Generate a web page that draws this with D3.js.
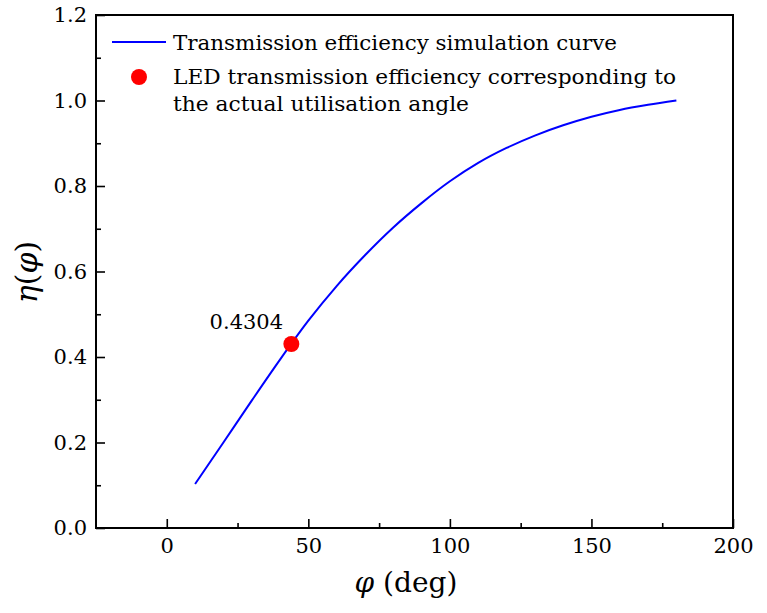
<!DOCTYPE html>
<html>
<head>
<meta charset="utf-8">
<script src="https://cdn.jsdelivr.net/npm/d3@7"></script>
<style>
  html, body { margin: 0; padding: 0; background: #fff; }
  svg text { font-family: "DejaVu Serif", serif !important; fill: #000; }
</style>
</head>
<body>
<svg id="chart" width="767" height="613"></svg>
<script>
// ---- data ----
const angles = [10, 20, 30, 40, 50, 60, 70, 80, 90, 100, 110, 120, 130, 140, 150, 160, 170, 180];
const efficiency = [0.103, 0.200, 0.298, 0.394, 0.485, 0.566, 0.638, 0.703, 0.760, 0.811, 0.854, 0.889, 0.918, 0.942, 0.962, 0.978, 0.990, 1.000];
const markAngle = [44];
const markValue = [0.4304];
const markLabel = ["0.4304"];
const xTicks = [0, 50, 100, 150, 200];
const xMinorTicks = [25, 75, 125, 175];
const yTicks = [0.0, 0.2, 0.4, 0.6, 0.8, 1.0, 1.2];
const yMinorTicks = [0.1, 0.3, 0.5, 0.7, 0.9, 1.1];
const legendLabels = ["Transmission efficiency simulation curve",
                      "LED transmission efficiency corresponding to",
                      "the actual utilisation angle"];

// ---- layout ----
const mLeft = 96, mRight = 733, mTop = 15, mBottom = 528;
const svg = d3.select("#chart");

const x = d3.scaleLinear().domain([-25, 200]).range([mLeft, mRight]);
const y = d3.scaleLinear().domain([0, 1.2]).range([mBottom, mTop]);

// axes
const xAxis = d3.axisBottom(x).tickValues(xTicks).tickFormat(d3.format("d"))
  .tickSizeInner(-9).tickSizeOuter(0).tickPadding(10);
const xMinor = d3.axisBottom(x).tickValues(xMinorTicks).tickFormat("")
  .tickSizeInner(-5).tickSizeOuter(0);
const yAxis = d3.axisLeft(y).tickValues(yTicks).tickFormat(d3.format(".1f"))
  .tickSizeInner(-9).tickSizeOuter(0).tickPadding(9);
const yMinor = d3.axisLeft(y).tickValues(yMinorTicks).tickFormat("")
  .tickSizeInner(-5).tickSizeOuter(0);

function styleAxis(g) {
  g.attr("font-family", null);
  g.select(".domain").remove();
  g.selectAll(".tick line").attr("stroke", "#000").attr("stroke-width", 1.6);
  g.selectAll(".tick text").style("font-size", "21px").attr("fill", "#000");
}

svg.append("g").attr("transform", `translate(0,${mBottom})`).call(xAxis).call(styleAxis);
svg.append("g").attr("transform", `translate(0,${mBottom})`).call(xMinor).call(styleAxis);
svg.append("g").attr("transform", `translate(${mLeft},0)`).call(yAxis).call(styleAxis);
svg.append("g").attr("transform", `translate(${mLeft},0)`).call(yMinor).call(styleAxis);

// frame
svg.append("rect")
  .attr("x", mLeft).attr("y", mTop)
  .attr("width", mRight - mLeft).attr("height", mBottom - mTop)
  .attr("fill", "none").attr("stroke", "#000").attr("stroke-width", 2);

// curve
const series = angles.map((a, i) => ({a, v: efficiency[i]}));
const line = d3.line().x(d => x(d.a)).y(d => y(d.v)).curve(d3.curveMonotoneX);
svg.append("path").datum(series)
  .attr("d", line)
  .attr("fill", "none").attr("stroke", "#0000ff").attr("stroke-width", 2);

// marker
const marks = markAngle.map((a, i) => ({a, v: markValue[i], label: markLabel[i]}));
svg.selectAll("circle.mark").data(marks).enter().append("circle")
  .attr("class", "mark")
  .attr("cx", d => x(d.a)).attr("cy", d => y(d.v)).attr("r", 8)
  .attr("fill", "#ff0000");
svg.selectAll("text.mark").data(marks).enter().append("text")
  .attr("class", "mark")
  .attr("x", d => x(d.a) - 45).attr("y", d => y(d.v) - 22)
  .attr("dy", "0.35em").attr("text-anchor", "middle")
  .style("font-size", "21px")
  .text(d => d.label);

// legend
svg.append("line").attr("x1", 112).attr("x2", 166).attr("y1", 42).attr("y2", 42)
  .attr("stroke", "#0000ff").attr("stroke-width", 2);
svg.append("circle").attr("cx", 139).attr("cy", 77).attr("r", 8).attr("fill", "#ff0000");
const legendY = [43, 77, 104];
const legendW = [444, 503, 296];
svg.selectAll("text.legend").data(legendLabels).enter().append("text")
  .attr("class", "legend")
  .attr("x", 173).attr("y", (d, i) => legendY[i]).attr("dy", "0.35em")
  .attr("textLength", (d, i) => legendW[i]).attr("lengthAdjust", "spacingAndGlyphs")
  .style("font-size", "20px")
  .text(d => d);

// axis titles
const xt = svg.append("text").attr("x", 406).attr("y", 582)
  .attr("dy", "0.35em").attr("text-anchor", "middle").style("font-size", "28px");
xt.append("tspan").style("font-style", "italic").text("φ");
xt.append("tspan").text(" (deg)");

const yt = svg.append("text")
  .attr("transform", `translate(26,272) rotate(-90)`)
  .attr("dy", "0.35em").attr("text-anchor", "middle").style("font-size", "30px");
yt.append("tspan").style("font-style", "italic").text("η");
yt.append("tspan").text("(");
yt.append("tspan").style("font-style", "italic").text("φ");
yt.append("tspan").text(")");
</script>
</body>
</html>
